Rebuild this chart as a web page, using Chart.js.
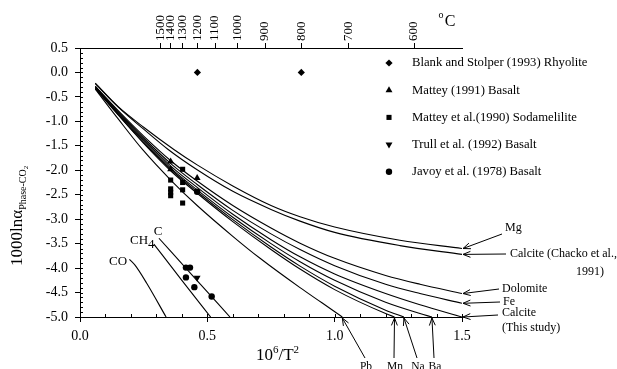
<!DOCTYPE html>
<html>
<head>
<meta charset="utf-8">
<script src="https://cdn.jsdelivr.net/npm/chart.js@4.4.0/dist/chart.umd.min.js"></script>
<style>
  html, body { margin: 0; padding: 0; background: #fff; }
</style>
</head>
<body>
<canvas id="chart" width="617" height="369"></canvas>
<script>
// top axis temperatures (deg C), placed at 10^6/T^2
const tempC = [1500, 1400, 1300, 1200, 1100, 1000, 900, 800, 700, 600];

// fractionation curves [10^6/T^2, 1000 ln alpha]
const mg = [[0.06,-0.22],[0.15,-0.70],[0.25,-1.12],[0.37,-1.58],[0.46,-1.89],[0.6,-2.32],[0.75,-2.72],[0.864,-2.95],[1.0,-3.16],[1.256,-3.43],[1.5,-3.60]];
const chacko = [[0.06,-0.23],[0.15,-0.71],[0.25,-1.16],[0.345,-1.57],[0.46,-1.99],[0.6,-2.43],[0.75,-2.80],[0.864,-3.04],[1.0,-3.27],[1.256,-3.54],[1.5,-3.72]];
const dolomite = [[0.06,-0.28],[0.15,-0.78],[0.25,-1.30],[0.36,-1.82],[0.46,-2.22],[0.6,-2.72],[0.75,-3.18],[0.864,-3.49],[1.0,-3.80],[1.2,-4.15],[1.335,-4.33],[1.5,-4.52]];
const fe = [[0.06,-0.29],[0.15,-0.80],[0.25,-1.34],[0.36,-1.88],[0.46,-2.29],[0.6,-2.82],[0.75,-3.30],[0.864,-3.62],[1.0,-3.95],[1.2,-4.33],[1.335,-4.52],[1.5,-4.72]];
const calcite = [[0.06,-0.30],[0.15,-0.82],[0.25,-1.37],[0.36,-1.93],[0.46,-2.35],[0.6,-2.90],[0.75,-3.42],[0.864,-3.77],[1.0,-4.12],[1.2,-4.52],[1.335,-4.75],[1.5,-5.00]];
const ba = [[0.06,-0.31],[0.15,-0.84],[0.25,-1.40],[0.36,-1.97],[0.46,-2.40],[0.6,-2.96],[0.75,-3.50],[0.864,-3.87],[1.0,-4.25],[1.2,-4.70],[1.335,-4.93],[1.382,-5.00]];
const na = [[0.06,-0.32],[0.15,-0.86],[0.25,-1.43],[0.36,-2.00],[0.46,-2.44],[0.6,-3.01],[0.75,-3.57],[0.864,-3.96],[1.0,-4.37],[1.2,-4.86],[1.272,-5.00]];
const mn = [[0.06,-0.33],[0.15,-0.87],[0.25,-1.45],[0.36,-2.03],[0.46,-2.47],[0.6,-3.05],[0.75,-3.62],[0.864,-4.02],[1.0,-4.44],[1.2,-4.93],[1.235,-5.00]];
const pb = [[0.06,-0.34],[0.15,-0.95],[0.247,-1.585],[0.36,-2.22],[0.46,-2.72],[0.6,-3.35],[0.707,-3.80],[0.864,-4.40],[0.95,-4.71],[1.03,-5.00]];
const co = [[0.194,-3.82],[0.216,-3.94],[0.262,-4.31],[0.338,-5.00]];
const ch4 = [[0.29,-3.51],[0.40,-4.25],[0.513,-5.00]];
const carbon = [[0.31,-3.39],[0.45,-4.20],[0.589,-5.00]];

// measured points
const blankStolper = [[0.461,0.0],[0.869,0.0]];
const mattey1991 = [[0.356,-1.82],[0.356,-1.98],[0.46,-2.16]];
const mattey1990 = [[0.356,-2.20],[0.356,-2.38],[0.356,-2.45],[0.356,-2.52],[0.403,-1.98],[0.403,-2.25],[0.403,-2.40],[0.403,-2.67]];
const trull1992 = [[0.46,-4.20]];
const javoy1978 = [[0.46,-2.44],[0.416,-3.99],[0.432,-3.99],[0.416,-4.19],[0.449,-4.39],[0.517,-4.58]];

const legendNames = ['Blank and Stolper (1993) Rhyolite', 'Mattey (1991) Basalt',
  'Mattey et al.(1990) Sodamelilite', 'Trull et al. (1992) Basalt', 'Javoy et al. (1978) Basalt'];

const FONT = "'Liberation Serif', 'Times New Roman', serif";
const toXY = arr => arr.map(p => ({ x: p[0], y: p[1] }));
const tempToX = t => 1e6 / Math.pow(t + 273.15, 2);

const curves = [mg, chacko, dolomite, fe, calcite, ba, na, mn, pb, co, ch4, carbon];
const markers = [
  { data: blankStolper, pointStyle: 'rectRot', radius: 3.6, rotation: 0 },
  { data: mattey1991, pointStyle: 'triangle', radius: 4, rotation: 0 },
  { data: mattey1990, pointStyle: 'rect', radius: 3.6, rotation: 0 },
  { data: trull1992, pointStyle: 'triangle', radius: 4, rotation: 180 },
  { data: javoy1978, pointStyle: 'circle', radius: 3.2, rotation: 0 },
];

const datasets = [];
curves.forEach(c => datasets.push({
  data: toXY(c), showLine: true, pointRadius: 0, borderColor: '#000',
  borderWidth: 1.1, cubicInterpolationMode: 'monotone', fill: false
}));
markers.forEach((m, i) => datasets.push({
  label: legendNames[i], data: toXY(m.data), showLine: false,
  pointStyle: m.pointStyle, pointRadius: m.radius, pointRotation: m.rotation,
  backgroundColor: '#000', borderColor: '#000', borderWidth: 0
}));

function text(ctx, s, x, y, size, align, base) {
  ctx.font = size + 'px ' + FONT;
  ctx.textAlign = align || 'left';
  ctx.textBaseline = base || 'middle';
  ctx.fillText(s, x, y);
}

function arrow(ctx, x1, y1, x2, y2) {
  ctx.beginPath();
  ctx.moveTo(x1, y1);
  ctx.lineTo(x2, y2);
  const a = Math.atan2(y2 - y1, x2 - x1);
  const L = 8, w = 0.38;
  ctx.moveTo(x2 - L * Math.cos(a - w), y2 - L * Math.sin(a - w));
  ctx.lineTo(x2, y2);
  ctx.lineTo(x2 - L * Math.cos(a + w), y2 - L * Math.sin(a + w));
  ctx.stroke();
}

const last = arr => arr[arr.length - 1];

const annotations = {
  id: 'annotations',
  afterDraw(chart) {
    const ctx = chart.ctx;
    const xs = chart.scales.x, ys = chart.scales.y, xt = chart.scales.x2;
    const area = chart.chartArea;
    ctx.save();
    ctx.fillStyle = '#000';
    ctx.strokeStyle = '#000';
    ctx.lineWidth = 1;

    // minor ticks, pointing inward
    ctx.beginPath();
    for (let i = 0; i <= 15; i++) {
      const px = Math.round(xs.getPixelForValue(i / 10)) + 0.5;
      ctx.moveTo(px, area.bottom);
      ctx.lineTo(px, area.bottom - 3);
    }
    for (let i = -50; i <= 5; i++) {
      const py = Math.round(ys.getPixelForValue(i / 10)) + 0.5;
      ctx.moveTo(area.left, py);
      ctx.lineTo(area.left + 3, py);
    }
    ctx.stroke();

    // top temperature labels, rotated, centred on their ticks
    tempC.forEach(t => {
      const px = xt.getPixelForValue(tempToX(t));
      ctx.save();
      ctx.translate(px, 41);
      ctx.rotate(-Math.PI / 2);
      text(ctx, String(t), 0, 0, 13, 'left', 'middle');
      ctx.restore();
    });

    // legend
    legendNames.forEach((name, i) => {
      const ly = 63 + i * 27.2;
      const m = markers[i];
      Chart.helpers.drawPoint(ctx, { pointStyle: m.pointStyle, radius: m.radius, rotation: m.rotation, borderWidth: 0 }, 389, ly);
      text(ctx, name, 412, ly, 12.7);
    });

    // y axis title
    ctx.save();
    ctx.translate(22, 266);
    ctx.rotate(-Math.PI / 2);
    ctx.font = '17px ' + FONT;
    ctx.textAlign = 'left';
    ctx.textBaseline = 'alphabetic';
    ctx.fillText('1000lnα', 0, 0);
    let w = ctx.measureText('1000lnα').width;
    ctx.font = '10px ' + FONT;
    ctx.fillText('Phase-CO', w, 4);
    w += ctx.measureText('Phase-CO').width;
    ctx.font = '7px ' + FONT;
    ctx.fillText('2', w, 6);
    ctx.restore();

    // x axis title 10^6/T^2
    ctx.textBaseline = 'alphabetic';
    ctx.textAlign = 'left';
    let tx = 256, ty = 360;
    ctx.font = '17px ' + FONT; ctx.fillText('10', tx, ty); tx += ctx.measureText('10').width;
    ctx.font = '11px ' + FONT; ctx.fillText('6', tx, ty - 7); tx += ctx.measureText('6').width;
    ctx.font = '17px ' + FONT; ctx.fillText('/T', tx, ty); tx += ctx.measureText('/T').width;
    ctx.font = '11px ' + FONT; ctx.fillText('2', tx, ty - 7);

    // deg C unit on top axis
    text(ctx, 'o', 441, 15, 10, 'center');
    text(ctx, 'C', 450, 22, 16, 'center');

    // low curve labels
    text(ctx, 'CO', 118, 262, 13, 'center');
    ctx.font = '13px ' + FONT; ctx.textAlign = 'left'; ctx.textBaseline = 'middle';
    ctx.fillText('CH', 130, 241);
    const chw = ctx.measureText('CH').width;
    ctx.fillText('4', 130 + chw, 245);
    text(ctx, 'C', 158, 232, 13, 'center');

    // right side labels with arrows
    const tip = c => [xs.getPixelForValue(last(c)[0]) + 1, ys.getPixelForValue(last(c)[1])];
    let t;
    text(ctx, 'Mg', 505, 228, 12);
    t = tip(mg); arrow(ctx, 502, 234, t[0], t[1]);
    text(ctx, 'Calcite (Chacko et al.,', 510, 254, 12);
    t = tip(chacko); arrow(ctx, 506, 254, t[0], t[1]);
    text(ctx, '1991)', 604, 272, 12, 'right');
    text(ctx, 'Dolomite', 502, 289, 12);
    t = tip(dolomite); arrow(ctx, 499, 289, t[0], t[1]);
    text(ctx, 'Fe', 503, 302, 12);
    t = tip(fe); arrow(ctx, 500, 302, t[0], t[1]);
    text(ctx, 'Calcite', 502, 313, 12);
    t = tip(calcite); arrow(ctx, 498, 315, t[0], t[1]);
    text(ctx, '(This study)', 502, 328, 12);

    // bottom labels with arrows
    const btip = c => [xs.getPixelForValue(last(c)[0]), ys.getPixelForValue(last(c)[1]) + 1];
    const bottomLabels = [['Pb', pb, 366], ['Mn', mn, 395], ['Na', na, 418], ['Ba', ba, 435]];
    bottomLabels.forEach(([name, c, lx]) => {
      text(ctx, name, lx, 361, 11.5, 'center', 'top');
      const b = btip(c);
      arrow(ctx, lx - 1, 358, b[0], b[1]);
    });

    ctx.restore();
  }
};

new Chart(document.getElementById('chart'), {
  type: 'scatter',
  data: { datasets },
  options: {
    responsive: false,
    animation: false,
    events: [],
    devicePixelRatio: 1,
    layout: { padding: { left: 0, right: 155, top: 0, bottom: 0 } },
    plugins: { legend: { display: false }, tooltip: { enabled: false } },
    scales: {
      x: {
        type: 'linear', position: 'bottom', min: 0, max: 1.5,
        ticks: { stepSize: 0.5, callback: v => v.toFixed(1), color: '#000', font: { family: FONT, size: 14 }, padding: 6, maxRotation: 0 },
        grid: { drawOnChartArea: false, tickLength: 5, color: '#000' },
        border: { color: '#000', width: 1 },
        afterFit: s => { s.height = 52; }
      },
      x2: {
        type: 'linear', position: 'top', min: 0, max: 1.5,
        afterBuildTicks: s => { s.ticks = tempC.map(t => ({ value: tempToX(t) })); },
        ticks: { display: false },
        grid: { drawOnChartArea: false, tickLength: 5, color: '#000' },
        border: { color: '#000', width: 1 },
        afterFit: s => { s.height = 48; }
      },
      y: {
        type: 'linear', position: 'left', min: -5, max: 0.5,
        ticks: { stepSize: 0.5, callback: v => v.toFixed(1), color: '#000', font: { family: FONT, size: 14 }, padding: 7 },
        grid: { drawOnChartArea: false, tickLength: 5, color: '#000' },
        border: { color: '#000', width: 1 },
        afterFit: s => { s.width = 80; }
      }
    }
  },
  plugins: [annotations]
});
</script>
</body>
</html>
